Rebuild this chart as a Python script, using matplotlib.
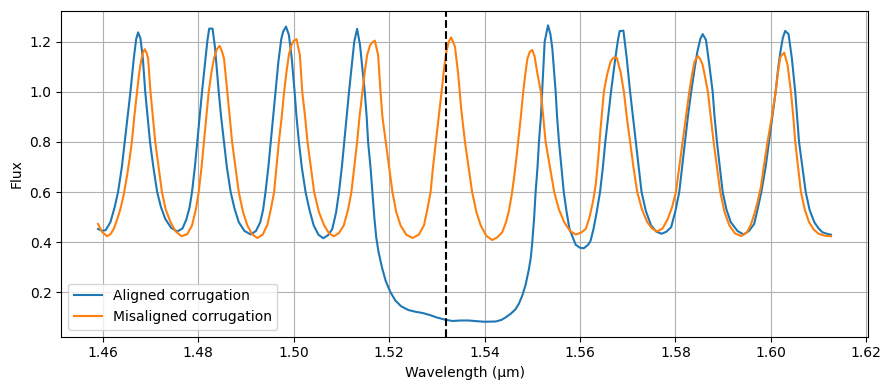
import matplotlib
matplotlib.use("Agg")
import matplotlib.pyplot as plt

# aligned corrugation (blue)
wl_aligned = [
    1.4590, 1.4598, 1.4606, 1.4616, 1.4625, 1.4632, 1.4640, 1.4646, 1.4652, 1.4658,
    1.4665, 1.4670, 1.4674, 1.4679, 1.4684, 1.4689, 1.4694, 1.4699, 1.4706, 1.4714,
    1.4722, 1.4731, 1.4743, 1.4756, 1.4767, 1.4775, 1.4782, 1.4787, 1.4793, 1.4798,
    1.4803, 1.4808, 1.4814, 1.4819, 1.4823, 1.4830, 1.4835, 1.4839, 1.4843, 1.4848,
    1.4854, 1.4860, 1.4868, 1.4876, 1.4885, 1.4897, 1.4910, 1.4921, 1.4930, 1.4936,
    1.4941, 1.4947, 1.4952, 1.4957, 1.4962, 1.4968, 1.4974, 1.4978, 1.4984, 1.4990,
    1.4996, 1.5002, 1.5006, 1.5011, 1.5017, 1.5025, 1.5033, 1.5042, 1.5052, 1.5062,
    1.5072, 1.5081, 1.5089, 1.5095, 1.5101, 1.5106, 1.5111, 1.5116, 1.5122, 1.5127,
    1.5133, 1.5139, 1.5144, 1.5149, 1.5153, 1.5156, 1.5161, 1.5165, 1.5169, 1.5173,
    1.5178, 1.5185, 1.5193, 1.5203, 1.5213, 1.5225, 1.5240, 1.5255, 1.5270, 1.5285,
    1.5300, 1.5318, 1.5333, 1.5350, 1.5367, 1.5385, 1.5400, 1.5423, 1.5435, 1.5444,
    1.5455, 1.5465, 1.5472, 1.5479, 1.5486, 1.5493, 1.5497, 1.5500, 1.5504, 1.5507,
    1.5511, 1.5514, 1.5518, 1.5521, 1.5526, 1.5533, 1.5538, 1.5542, 1.5549, 1.5552,
    1.5556, 1.5561, 1.5566, 1.5572, 1.5578, 1.5591, 1.5600, 1.5608, 1.5617, 1.5622,
    1.5628, 1.5635, 1.5642, 1.5648, 1.5653, 1.5659, 1.5665, 1.5670, 1.5674, 1.5679,
    1.5683, 1.5691, 1.5698, 1.5705, 1.5711, 1.5717, 1.5723, 1.5729, 1.5738, 1.5749,
    1.5760, 1.5771, 1.5781, 1.5791, 1.5800, 1.5808, 1.5814, 1.5820, 1.5826, 1.5833,
    1.5840, 1.5846, 1.5852, 1.5857, 1.5864, 1.5871, 1.5878, 1.5882, 1.5887, 1.5893,
    1.5899, 1.5907, 1.5916, 1.5930, 1.5943, 1.5954, 1.5965, 1.5972, 1.5980, 1.5989,
    1.5996, 1.6003, 1.6010, 1.6015, 1.6020, 1.6025, 1.6030, 1.6037, 1.6044, 1.6051,
    1.6055, 1.6059, 1.6066, 1.6073, 1.6081, 1.6091, 1.6100, 1.6108, 1.6117, 1.6126,
]
flux_aligned = [
    0.453, 0.446, 0.448, 0.480, 0.540, 0.600, 0.700, 0.800, 0.900, 1.000,
    1.133, 1.210, 1.237, 1.213, 1.133, 1.000, 0.900, 0.800, 0.700, 0.600,
    0.540, 0.493, 0.458, 0.443, 0.455, 0.490, 0.540, 0.600, 0.700, 0.800,
    0.900, 1.000, 1.110, 1.200, 1.252, 1.252, 1.180, 1.090, 1.000, 0.900,
    0.800, 0.700, 0.600, 0.535, 0.480, 0.445, 0.431, 0.445, 0.480, 0.530,
    0.600, 0.700, 0.800, 0.900, 1.000, 1.120, 1.210, 1.240, 1.260, 1.227,
    1.133, 1.000, 0.900, 0.800, 0.700, 0.600, 0.530, 0.467, 0.430, 0.416,
    0.428, 0.453, 0.520, 0.600, 0.700, 0.800, 0.900, 1.000, 1.110, 1.200,
    1.251, 1.187, 1.093, 1.000, 0.900, 0.800, 0.700, 0.600, 0.500, 0.420,
    0.360, 0.300, 0.245, 0.200, 0.168, 0.145, 0.130, 0.123, 0.118, 0.110,
    0.100, 0.091, 0.086, 0.088, 0.088, 0.085, 0.083, 0.084, 0.090, 0.100,
    0.115, 0.133, 0.155, 0.187, 0.230, 0.293, 0.340, 0.400, 0.500, 0.600,
    0.700, 0.800, 0.900, 1.013, 1.200, 1.265, 1.230, 1.173, 1.000, 0.900,
    0.800, 0.700, 0.600, 0.520, 0.453, 0.390, 0.378, 0.376, 0.390, 0.405,
    0.450, 0.520, 0.600, 0.700, 0.800, 0.900, 1.000, 1.075, 1.133, 1.200,
    1.242, 1.244, 1.133, 1.000, 0.900, 0.800, 0.700, 0.600, 0.525, 0.467,
    0.442, 0.434, 0.442, 0.460, 0.525, 0.600, 0.700, 0.800, 0.900, 1.000,
    1.090, 1.160, 1.210, 1.230, 1.207, 1.107, 1.000, 0.900, 0.800, 0.700,
    0.600, 0.530, 0.480, 0.445, 0.431, 0.445, 0.473, 0.530, 0.600, 0.700,
    0.800, 0.900, 1.000, 1.090, 1.160, 1.215, 1.243, 1.230, 1.133, 1.000,
    0.900, 0.800, 0.700, 0.600, 0.530, 0.480, 0.455, 0.440, 0.434, 0.430,
]

# misaligned corrugation (orange)
wl_misaligned = [
    1.4590, 1.4599, 1.4609, 1.4616, 1.4623, 1.4630, 1.4637, 1.4644, 1.4651, 1.4656,
    1.4661, 1.4666, 1.4672, 1.4676, 1.4680, 1.4684, 1.4688, 1.4692, 1.4695, 1.4700,
    1.4705, 1.4710, 1.4717, 1.4724, 1.4732, 1.4742, 1.4752, 1.4765, 1.4777, 1.4787,
    1.4795, 1.4801, 1.4807, 1.4812, 1.4817, 1.4822, 1.4828, 1.4833, 1.4839, 1.4845,
    1.4850, 1.4854, 1.4861, 1.4866, 1.4871, 1.4878, 1.4885, 1.4894, 1.4903, 1.4913,
    1.4924, 1.4935, 1.4945, 1.4952, 1.4959, 1.4964, 1.4969, 1.4975, 1.4980, 1.4985,
    1.4990, 1.4995, 1.5000, 1.5006, 1.5013, 1.5018, 1.5024, 1.5029, 1.5036, 1.5043,
    1.5053, 1.5064, 1.5074, 1.5084, 1.5095, 1.5105, 1.5114, 1.5121, 1.5127, 1.5133,
    1.5138, 1.5144, 1.5149, 1.5154, 1.5160, 1.5165, 1.5170, 1.5177, 1.5182, 1.5186,
    1.5193, 1.5200, 1.5207, 1.5215, 1.5224, 1.5236, 1.5249, 1.5262, 1.5273, 1.5280,
    1.5287, 1.5292, 1.5298, 1.5304, 1.5310, 1.5315, 1.5320, 1.5325, 1.5330, 1.5338,
    1.5345, 1.5351, 1.5359, 1.5367, 1.5374, 1.5383, 1.5392, 1.5404, 1.5416, 1.5427,
    1.5437, 1.5445, 1.5451, 1.5457, 1.5462, 1.5467, 1.5471, 1.5476, 1.5481, 1.5486,
    1.5490, 1.5495, 1.5500, 1.5505, 1.5511, 1.5518, 1.5523, 1.5528, 1.5537, 1.5546,
    1.5556, 1.5567, 1.5579, 1.5591, 1.5602, 1.5612, 1.5620, 1.5627, 1.5633, 1.5638,
    1.5643, 1.5650, 1.5657, 1.5664, 1.5670, 1.5677, 1.5685, 1.5692, 1.5698, 1.5705,
    1.5712, 1.5720, 1.5730, 1.5741, 1.5751, 1.5762, 1.5773, 1.5784, 1.5793, 1.5801,
    1.5808, 1.5815, 1.5822, 1.5829, 1.5835, 1.5840, 1.5847, 1.5852, 1.5857, 1.5862,
    1.5868, 1.5874, 1.5880, 1.5887, 1.5894, 1.5903, 1.5913, 1.5925, 1.5938, 1.5950,
    1.5958, 1.5965, 1.5972, 1.5979, 1.5985, 1.5993, 1.6002, 1.6010, 1.6015, 1.6020,
    1.6028, 1.6035, 1.6042, 1.6047, 1.6051, 1.6057, 1.6063, 1.6071, 1.6080, 1.6090,
    1.6100, 1.6113, 1.6126,
]
flux_misaligned = [
    0.473, 0.440, 0.424, 0.432, 0.453, 0.490, 0.533, 0.590, 0.667, 0.730,
    0.800, 0.900, 1.000, 1.070, 1.120, 1.155, 1.170, 1.155, 1.133, 1.000,
    0.900, 0.800, 0.700, 0.600, 0.530, 0.480, 0.445, 0.424, 0.432, 0.467,
    0.530, 0.600, 0.700, 0.800, 0.900, 1.000, 1.080, 1.133, 1.170, 1.183,
    1.160, 1.133, 1.000, 0.900, 0.800, 0.700, 0.600, 0.520, 0.467, 0.432,
    0.417, 0.430, 0.470, 0.530, 0.600, 0.700, 0.800, 0.900, 1.000, 1.080,
    1.147, 1.185, 1.203, 1.210, 1.147, 1.000, 0.900, 0.800, 0.700, 0.600,
    0.520, 0.467, 0.436, 0.424, 0.437, 0.467, 0.530, 0.600, 0.700, 0.800,
    0.900, 1.000, 1.080, 1.147, 1.185, 1.197, 1.204, 1.147, 1.000, 0.900,
    0.800, 0.700, 0.600, 0.520, 0.467, 0.430, 0.417, 0.430, 0.467, 0.530,
    0.600, 0.700, 0.800, 0.900, 1.000, 1.090, 1.160, 1.200, 1.217, 1.180,
    1.067, 0.933, 0.800, 0.693, 0.600, 0.520, 0.467, 0.425, 0.409, 0.420,
    0.440, 0.480, 0.525, 0.590, 0.660, 0.740, 0.810, 0.900, 1.000, 1.080,
    1.133, 1.160, 1.167, 1.140, 1.070, 1.000, 0.900, 0.800, 0.700, 0.600,
    0.530, 0.480, 0.445, 0.431, 0.438, 0.453, 0.500, 0.560, 0.630, 0.730,
    0.850, 1.000, 1.070, 1.120, 1.136, 1.136, 1.080, 1.000, 0.900, 0.800,
    0.700, 0.600, 0.530, 0.480, 0.455, 0.443, 0.455, 0.493, 0.540, 0.600,
    0.700, 0.800, 0.900, 1.000, 1.070, 1.120, 1.143, 1.130, 1.107, 1.060,
    1.000, 0.900, 0.800, 0.700, 0.600, 0.520, 0.467, 0.435, 0.425, 0.440,
    0.470, 0.510, 0.560, 0.620, 0.700, 0.800, 0.900, 1.000, 1.080, 1.140,
    1.156, 1.107, 1.000, 0.900, 0.800, 0.700, 0.600, 0.530, 0.480, 0.450,
    0.434, 0.426, 0.424,
]

marker_wl = 1.532

fig, ax = plt.subplots(figsize=(8.89, 3.9), dpi=100)
ax.plot(wl_aligned, flux_aligned, label="Aligned corrugation")
ax.plot(wl_misaligned, flux_misaligned, label="Misaligned corrugation")
ax.axvline(marker_wl, color="black", linestyle="--", linewidth=1.5)

ax.set_xlabel("Wavelength (μm)")
ax.set_ylabel("Flux")
ax.grid(True)
ax.legend(loc="lower left")

fig.subplots_adjust(left=0.069, right=0.976, top=0.973, bottom=0.137)
plt.savefig("out.png")
